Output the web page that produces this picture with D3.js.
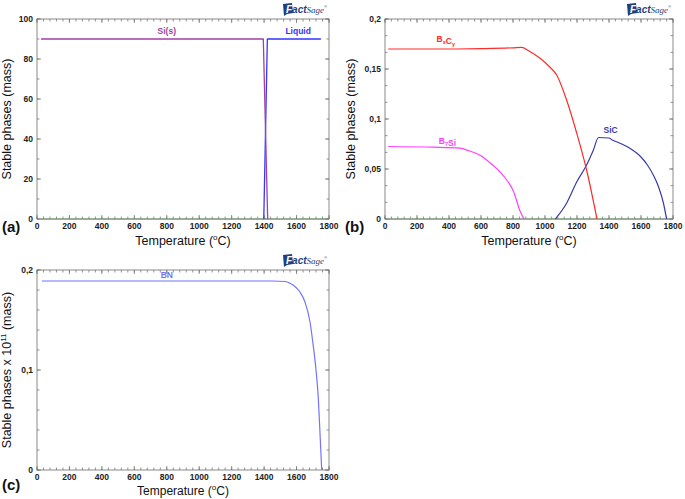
<!DOCTYPE html>
<html><head><meta charset="utf-8">
<script src="https://cdn.jsdelivr.net/npm/d3@7"></script>
<style>
body{margin:0;background:#fff;}
svg{display:block;font-family:"Liberation Sans",Arial,sans-serif;}
</style></head>
<body><svg id="c" width="685" height="499"></svg>
<script>
// ---- data ----
const tempTicks = [0,200,400,600,800,1000,1200,1400,1600,1800];

// panel (a)
const siT   = [25, 1395, 1422];
const siV   = [90, 90, 0];
const liqT  = [1398, 1420, 1750];
const liqV  = [0, 90, 90];
const aYTicks = [0,20,40,60,80,100];
const aYLabels = ["0","20","40","60","80","100"];

// panel (b)
const bxcyT = [20, 200, 400, 600, 800, 854, 900, 969, 1030, 1073, 1135, 1198, 1260, 1325];
const bxcyV = [0.170, 0.170, 0.170, 0.1703, 0.1712, 0.1717, 0.168, 0.1607, 0.152, 0.144, 0.119, 0.086, 0.049, 0];
const b7siT = [20, 300, 469, 520, 594, 650, 719, 770, 802, 844, 868];
const b7siV = [0.0725, 0.0718, 0.0708, 0.0685, 0.0637, 0.057, 0.047, 0.037, 0.028, 0.008, 0];
const sicT  = [1065, 1135, 1198, 1260, 1300, 1335, 1400, 1420, 1450, 1530, 1600, 1640, 1680, 1710, 1740, 1760];
const sicV  = [0, 0.0157, 0.037, 0.054, 0.068, 0.0815, 0.081, 0.079, 0.077, 0.0707, 0.062, 0.054, 0.043, 0.032, 0.016, 0];
const bYTicks = [0, 0.05, 0.1, 0.15, 0.2];
const bYLabels = ["0","0,05","0,1","0,15","0,2"];

// panel (c)
const bnT = [30, 800, 1450, 1530, 1560, 1600, 1621, 1652, 1683, 1700, 1720, 1734, 1745, 1755];
const bnV = [0.189, 0.189, 0.189, 0.1885, 0.1867, 0.182, 0.178, 0.168, 0.148, 0.128, 0.100, 0.072, 0.035, 0];
const cYTicks = [0, 0.1, 0.2];
const cYLabels = ["0","0,1","0,2"];

const svg = d3.select("#c");
const frameCol = "#8a8a8a";

function panel(o){
  const g = svg.append("g");
  const x = d3.scaleLinear().domain([0,1800]).range([o.left,o.right]);
  const y = d3.scaleLinear().domain(o.ydom).range([o.bottom,o.top]);
  g.append("rect").attr("x",o.left).attr("y",o.top).attr("width",o.right-o.left).attr("height",o.bottom-o.top)
    .attr("fill","none").attr("stroke",frameCol).attr("stroke-width",1);
  const xMinor = d3.range(0,1801,40);
  const yMinor = d3.range(o.ydom[0], o.ydom[1]+1e-9, o.yminor);
  const tk = g.append("g").attr("stroke","#777").attr("stroke-width",0.8);
  xMinor.forEach(t=>{
    tk.append("line").attr("x1",x(t)).attr("x2",x(t)).attr("y1",o.bottom).attr("y2",o.bottom-2.5);
    tk.append("line").attr("x1",x(t)).attr("x2",x(t)).attr("y1",o.top).attr("y2",o.top+2.5);
  });
  tempTicks.forEach(t=>{
    tk.append("line").attr("x1",x(t)).attr("x2",x(t)).attr("y1",o.bottom).attr("y2",o.bottom-4);
    tk.append("line").attr("x1",x(t)).attr("x2",x(t)).attr("y1",o.top).attr("y2",o.top+4);
  });
  yMinor.forEach(v=>{
    tk.append("line").attr("x1",o.left).attr("x2",o.left+2.5).attr("y1",y(v)).attr("y2",y(v));
    tk.append("line").attr("x1",o.right).attr("x2",o.right-2.5).attr("y1",y(v)).attr("y2",y(v));
  });
  o.yticks.forEach(v=>{
    tk.append("line").attr("x1",o.left).attr("x2",o.left+4).attr("y1",y(v)).attr("y2",y(v));
    tk.append("line").attr("x1",o.right).attr("x2",o.right-4).attr("y1",y(v)).attr("y2",y(v));
  });
  g.append("g").selectAll("text").data(tempTicks).join("text")
    .attr("x",d=>x(d)).attr("y",o.bottom+10).attr("text-anchor","middle")
    .attr("font-size",8.5).attr("font-weight","bold").attr("fill","#222").text(d=>d);
  g.append("g").selectAll("text").data(o.yticks).join("text")
    .attr("x",o.left-4).attr("y",d=>y(d)+3).attr("text-anchor","end")
    .attr("font-size",8.5).attr("font-weight","bold").attr("fill","#222").text((d,i)=>o.ylabels[i]);
  const xt = g.append("text").attr("x",(o.left+o.right)/2).attr("y",o.xtitleY)
    .attr("text-anchor","middle").attr("font-size",o.xtitleSize||12.5).attr("fill","#111");
  xt.append("tspan").text("Temperature (");
  xt.append("tspan").attr("font-size",8).attr("dy",-5).text("o");
  xt.append("tspan").attr("dy",5).text("C)");
  const yt = g.append("text").attr("transform",`translate(${o.ytitleX},${(o.top+o.bottom)/2}) rotate(-90)`)
    .attr("text-anchor","middle").attr("font-size",12.5).attr("fill","#111");
  if(o.sup){
    yt.append("tspan").text("Stable phases x 10");
    yt.append("tspan").attr("font-size",8).attr("dy",-5).text("11");
    yt.append("tspan").attr("dy",5).text(" (mass)");
  } else yt.text("Stable phases (mass)");
  g.append("text").attr("x",o.letterX).attr("y",o.letterY).attr("font-size",15).attr("font-weight","bold")
    .attr("fill","#111").text(o.letter);
  const lg = g.append("g").attr("transform",`translate(${o.right-46},${o.top-5})`);
  lg.append("path").attr("d","M0,-10 L9,-11 L10,-1 L4,0 L1,2 Z").attr("fill","#1f3f7f");
  const lt = lg.append("text").attr("x",3).attr("y",-1.5).attr("fill","#1f3f7f").attr("font-style","italic");
  lt.append("tspan").attr("font-size",10).attr("font-weight","bold").attr("fill","#fff").text("F");
  lt.append("tspan").attr("font-size",10).attr("font-weight","bold").attr("fill","#1f3f7f").text("act");
  lt.append("tspan").attr("font-size",9).attr("font-family","Liberation Serif,serif").text("Sage");
  lt.append("tspan").attr("font-size",4).attr("dy",-5).text("®");
  return {g,x,y};
}

function drawLine(p, T, V, col, w, curve){
  const line = d3.line().x((d,i)=>p.x(T[i])).y((d,i)=>p.y(V[i])).curve(curve||d3.curveLinear);
  p.g.append("path").datum(T).attr("d",line).attr("fill","none").attr("stroke",col).attr("stroke-width",w||1.2)
    .attr("stroke-linejoin","round");
}
function label(p, t, v, col){
  return p.g.append("text").attr("x",p.x(t)).attr("y",p.y(v)).attr("text-anchor","middle")
    .attr("font-size",8.5).attr("font-weight","bold").attr("fill",col);
}
function sub(el, parts){
  parts.forEach(pt=>{
    if(pt.sub){ el.append("tspan").attr("font-size",5.5).attr("dy",2).text(pt.t); el.append("tspan").attr("dy",-2).text(""); }
    else el.append("tspan").text(pt.t);
  });
}

// panel a
const pa = panel({left:37,right:329,top:19,bottom:219,ydom:[0,100],yticks:aYTicks,ylabels:aYLabels,yminor:10,
  ytitleX:11,xtitleY:245,letter:"(a)",letterX:2,letterY:232});
drawLine(pa, [25,1800], [0,0], "#6a9a6a", 1);
drawLine(pa, liqT, liqV, "#3535ff", 1.3);
drawLine(pa, siT, siV, "#a040a0", 1.3);
label(pa, 800, 92.5, "#a040a0").text("Si(s)");
label(pa, 1610, 92.5, "#3535ff").text("Liquid");

// panel b
const pb = panel({left:385,right:673,top:19,bottom:219,ydom:[0,0.2],yticks:bYTicks,ylabels:bYLabels,yminor:0.05/3,
  ytitleX:355,xtitleY:245,letter:"(b)",letterX:345,letterY:232});
drawLine(pb, [20,1800], [0,0], "#6a9a6a", 1);
drawLine(pb, sicT, sicV, "#3a3aa8", 1.2, d3.curveMonotoneX);
drawLine(pb, b7siT, b7siV, "#ff40ff", 1.2, d3.curveMonotoneX);
drawLine(pb, bxcyT, bxcyV, "#ff2a2a", 1.2, d3.curveMonotoneX);
sub(label(pb, 380, 0.1775, "#ff2a2a"), [{t:"B"},{t:"x",sub:true},{t:"C"},{t:"y",sub:true}]);
sub(label(pb, 390, 0.0755, "#ff40ff"), [{t:"B"},{t:"7",sub:true},{t:"Si"}]);
label(pb, 1410, 0.0865, "#3a3aa8").text("SiC");

// panel c
const pc = panel({left:37,right:329,top:270,bottom:470,ydom:[0,0.2],yticks:cYTicks,ylabels:cYLabels,yminor:0.02,
  ytitleX:11,xtitleY:494.5,xtitleSize:12,sup:true,letter:"(c)",letterX:2,letterY:490});
drawLine(pc, bnT, bnV, "#7373ff", 1.2, d3.curveMonotoneX);
label(pc, 800, 0.1925, "#7373ff").text("BN");
</script></body></html>
